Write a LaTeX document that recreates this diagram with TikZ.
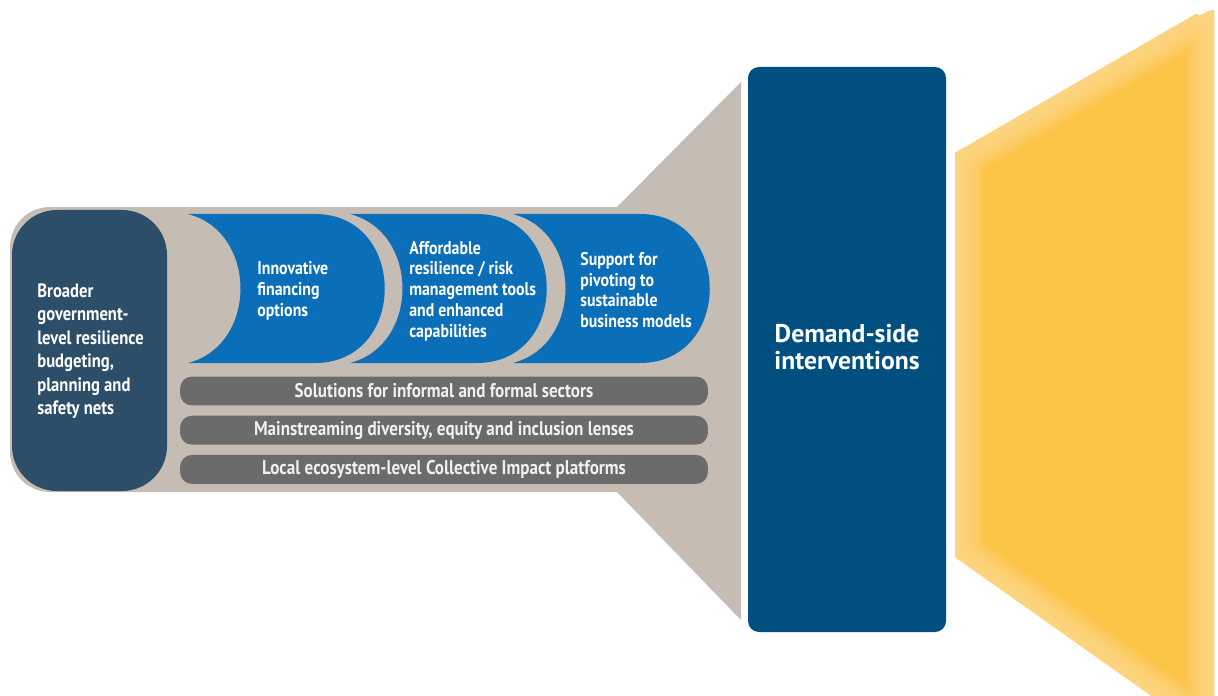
\documentclass[tikz,border=0pt]{standalone}
\usepackage{fontspec}
\setmainfont[FakeStretch=0.86]{PT Sans}
\newfontfamily\widefont{PT Sans}
\usetikzlibrary{positioning}

\definecolor{funnelgrey}{HTML}{C5BDB3}
\definecolor{slate}{HTML}{2D4E68}
\definecolor{tabblue}{HTML}{0A6EB8}
\definecolor{bargrey}{HTML}{6B6B6B}
\definecolor{demandblue}{HTML}{004F81}
\definecolor{sunyellow}{HTML}{FCC447}
\definecolor{sunlight}{HTML}{FEDB8E}

\begin{document}
\begin{tikzpicture}[x=0.02cm,y=-0.02cm,
  tabtext/.style={text=white,font=\bfseries\fontsize{10.5}{11.8}\selectfont,align=left,inner sep=0pt,anchor=west},
  bar/.style={fill=bargrey,rounded corners=0.24cm,minimum width=10.56cm,minimum height=0.58cm,inner sep=0pt,
    text=white!94!black,font=\bfseries\fontsize{11.3}{12}\selectfont}]
  \useasboundingbox (0,0) rectangle (1218,696);

  % grey funnel behind everything
  \fill[funnelgrey,rounded corners=0.8cm] (10,207) rectangle (670,492);
  \fill[funnelgrey] (617,207) -- (741,82) -- (741,620) -- (617,492) -- cycle;

  % left box
  \fill[slate,rounded corners=0.9cm] (12,210) rectangle (167,491);
  \node[tabtext,font=\bfseries\fontsize{11}{13.4}\selectfont] (broader) at (37,351)
    {Broader\\government-\\level resilience\\budgeting,\\planning and\\safety nets};

  % blue tabs
  \foreach \a in {188,350,513}
    \fill[tabblue] (\a,214) .. controls (\a+70,232) and (\a+70,345) .. (\a,363)
      -- (\a+127,363) .. controls (\a+220,363) and (\a+220,214) .. (\a+127,214) -- cycle;
  \node[tabtext] (finance) at (257,291) {Innovative\\financing\\options};
  \node[tabtext] (tools) at (409,291) {Affordable\\resilience / risk\\management tools\\and enhanced\\capabilities};
  \node[tabtext] (pivot) at (580,290) {Support for\\pivoting to\\sustainable\\business models};

  % cross-cutting bars
  \node[bar] (sectors) at (444,391) {Solutions for informal and formal sectors};
  \node[bar,below=0.19cm of sectors] (diversity) {Mainstreaming diversity, equity and inclusion lenses};
  \node[bar,below=0.19cm of diversity] (platforms) {Local ecosystem-level Collective Impact platforms};

  % demand side
  \fill[demandblue,rounded corners=0.22cm] (748,67) rectangle (946,632);
  \node[text=white,font=\widefont\bfseries\fontsize{14.6}{15.4}\selectfont,align=center] (demand) at (847,347)
    {Demand-side\\interventions};

  % yellow outlet
  \begin{scope}
    \clip (0,0) rectangle (1218,696);
    \clip (955,153) -- (1196,14) to[out=-30,in=180] (1214,10) -- (1214,740) -- (955,557) -- cycle;
    \fill[sunyellow] (0,0) rectangle (1218,696);
    \foreach \w in {4,8,...,56}
      \draw[sunlight,line width=\w*0.02cm,opacity=0.13,line join=round]
        (955,153) -- (1196,14) to[out=-30,in=180] (1214,10) -- (1214,740) -- (955,557) -- cycle;
  \end{scope}
\end{tikzpicture}
\end{document}
